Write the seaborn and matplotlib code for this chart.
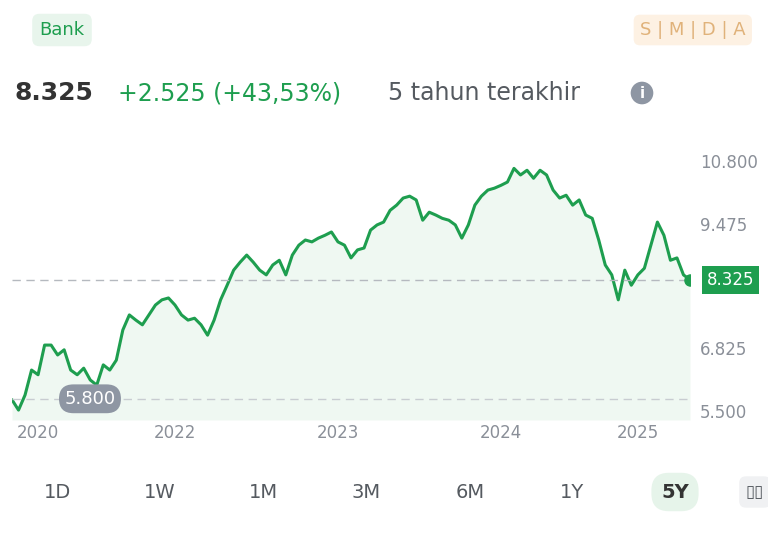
import numpy as np
import seaborn as sns
import matplotlib
matplotlib.use('Agg')
import matplotlib.pyplot as plt

# harga penutupan (perkiraan dari grafik)
prices = [5.78, 5.56, 5.88, 6.41, 6.31, 6.94, 6.94, 6.73, 6.84, 6.41, 6.31, 6.45, 6.20, 6.09,
          6.52, 6.41, 6.62, 7.26, 7.58, 7.47, 7.37, 7.58, 7.79, 7.90, 7.94, 7.79, 7.58, 7.47,
          7.51, 7.37, 7.15, 7.47, 7.90, 8.21, 8.53, 8.70, 8.85, 8.70, 8.53, 8.43, 8.64, 8.74,
          8.43, 8.85, 9.06, 9.17, 9.13, 9.21, 9.27, 9.34, 9.13, 9.06, 8.79, 8.96, 9.00, 9.38,
          9.49, 9.55, 9.80, 9.91, 10.06, 10.10, 10.02, 9.59, 9.76, 9.70, 9.63, 9.59, 9.49, 9.21,
          9.49, 9.91, 10.10, 10.23, 10.27, 10.33, 10.40, 10.69, 10.55, 10.65, 10.48, 10.65,
          10.55, 10.23, 10.06, 10.12, 9.91, 10.02, 9.70, 9.63, 9.17, 8.64, 8.43, 7.90, 8.53,
          8.21, 8.43, 8.57, 9.06, 9.55, 9.27, 8.74, 8.79, 8.43, 8.325]
y_ticks = [10.8, 9.475, 8.15, 6.825, 5.5]
y_labels = ['10.800', '9.475', '8.325', '6.825', '5.500']
year_labels = ['2020', '2022', '2023', '2024', '2025']
year_pos = [4, 25, 50, 75, 96]
ranges = ['1D', '1W', '1M', '3M', '6M', '1Y', '5Y']

green = '#1e9e4f'
grey = '#8a8f98'

sns.set_style('white')
fig = plt.figure(figsize=(7.68, 5.36), dpi=100)
ax = fig.add_axes([12/768, 116/536, 678/768, 270/536])
x = np.arange(len(prices))
sns.lineplot(x=x, y=prices, ax=ax, color=green, linewidth=2.2)
ax.fill_between(x, prices, 5.35, color=green, alpha=0.07, linewidth=0)
ax.axhline(8.325, color='#b5b9bf', ls=(0, (6, 4)), lw=1)
ax.axhline(5.8, color='#c8ccd1', ls=(0, (6, 4)), lw=1)
ax.plot(x[-1], prices[-1], 'o', color=green, ms=8)
ax.set_xlim(0, len(prices) - 1)
ax.set_ylim(5.35, 11.08)
ax.set_xticks([]); ax.set_yticks([])
for s in ax.spines.values():
    s.set_visible(False)
ax.patch.set_alpha(0)

# sumbu kanan
for v, t in zip(y_ticks, y_labels):
    if t == '8.325':
        continue
    ax.text(1.015, (v - 5.35) / (11.08 - 5.35), t, transform=ax.transAxes, fontsize=12,
            color=grey, va='center', ha='left')
ax.text(1.025, (8.325 - 5.35) / (11.08 - 5.35), '8.325', transform=ax.transAxes, fontsize=12,
        color='white', va='center', ha='left',
        bbox=dict(boxstyle='square,pad=0.3', fc=green, ec='none'))
ax.text(0.115, (5.8 - 5.35) / (11.08 - 5.35), '5.800', transform=ax.transAxes, fontsize=13,
        color='white', va='center', ha='center',
        bbox=dict(boxstyle='round,pad=0.3,rounding_size=0.8', fc='#8e96a3', ec='none'))
for p, t in zip(year_pos, year_labels):
    fig.text((12 + p / (len(prices) - 1) * 678) / 768, 1 - 433/536, t, fontsize=12,
             color=grey, ha='center', va='center')

# header
fig.text(62/768, 1 - 30/536, 'Bank', fontsize=13, color=green, ha='center', va='center',
         bbox=dict(boxstyle='round,pad=0.4', fc='#e8f5ec', ec='none'))
fig.text(14/768, 1 - 93/536, '8.325', fontsize=18, color='#333333', ha='left', va='center',
         fontweight='semibold')
fig.text(118/768, 1 - 93/536, '+2.525 (+43,53%)', fontsize=17, color=green, ha='left', va='center')
fig.text(388/768, 1 - 93/536, '5 tahun terakhir', fontsize=17, color='#555a60', ha='left', va='center')
fig.text(642/768, 1 - 93/536, 'i', fontsize=11, color='white', ha='center', va='center',
         fontweight='bold', bbox=dict(boxstyle='circle,pad=0.25', fc='#8e96a3', ec='none'))
fig.text(640/768, 1 - 30/536, 'S | M | D | A', fontsize=13, color='#e0b27a', ha='left', va='center',
         bbox=dict(boxstyle='round,pad=0.35', fc='#fdf1e3', ec='none'))

# tombol rentang
bx = [57, 160, 263, 366, 470, 572, 675]
for b, r in zip(bx, ranges):
    if r == '5Y':
        fig.text(b/768, 1 - 492/536, r, fontsize=14, color='#333333', fontweight='bold',
                 ha='center', va='center',
                 bbox=dict(boxstyle='round,pad=0.5,rounding_size=0.9', fc='#e6f4ea', ec='none'))
    else:
        fig.text(b/768, 1 - 492/536, r, fontsize=14, color='#555a60', ha='center', va='center')
fig.text(755/768, 1 - 492/536, '▯▯', fontsize=12, color='#555a60', ha='center', va='center',
         bbox=dict(boxstyle='round,pad=0.4', fc='#f0f1f3', ec='none'))

fig.savefig('out.png', dpi=100)
